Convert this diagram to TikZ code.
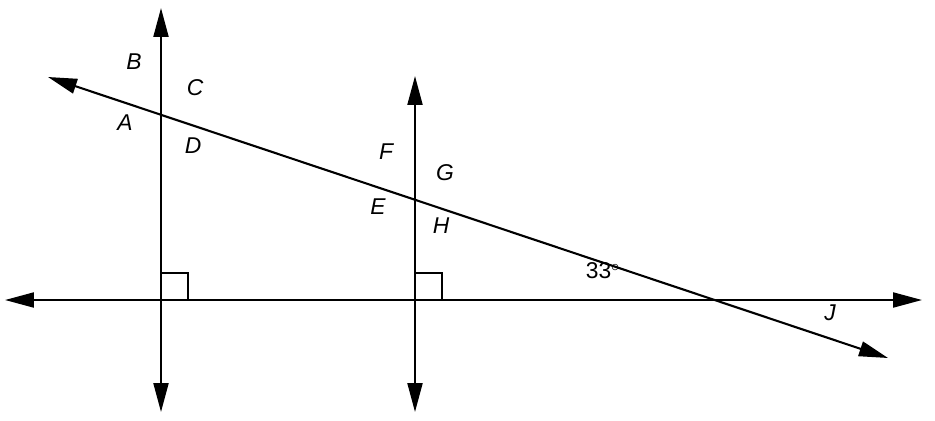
\documentclass[tikz,border=0pt]{standalone}
\usepackage{fontspec}
\setmainfont{Liberation Sans}
\usetikzlibrary{arrows.meta}
\begin{document}
\begin{tikzpicture}[x=0.02cm,y=-0.02cm,
  ln/.style={line width=1.2pt,{Triangle[length=0.58cm,width=0.3cm]}-{Triangle[length=0.58cm,width=0.3cm]}},
  lab/.style={font=\fontsize{13pt}{13pt}\selectfont\itshape},
  sq/.style={line width=1.1pt}]
\useasboundingbox (0,0) rectangle (935,420);
\coordinate (h1) at (5,300); \coordinate (h2) at (922,300);
\coordinate (v1a) at (161,8); \coordinate (v1b) at (161,412);
\coordinate (v2a) at (415,76); \coordinate (v2b) at (415,412);
\coordinate (t1) at (48,77); \coordinate (t2) at (888,358);
\draw[ln] (h1) -- (h2);
\draw[ln] (v1a) -- (v1b);
\draw[ln] (v2a) -- (v2b);
\draw[ln] (t1) -- (t2);
\coordinate (r1) at (161,300); \coordinate (r2) at (415,300);
\draw[sq] (r1) ++(0,-27) -| ++(27,27);
\draw[sq] (r2) ++(0,-27) -| ++(27,27);
\node[lab] (B) at (134,62) {B};
\node[lab] (C) at (195,88) {C};
\node[lab] (A) at (125,123) {A};
\node[lab] (D) at (193,146) {D};
\node[lab] (F) at (386,152) {F};
\node[lab] (G) at (445,173) {G};
\node[lab] (E) at (378,207) {E};
\node[lab] (H) at (441,226) {H};
\node[font=\fontsize{13pt}{13pt}\selectfont] (ang) at (603,271) {33$^\circ$};
\node[lab] (J) at (830,313) {J};
\end{tikzpicture}
\end{document}
